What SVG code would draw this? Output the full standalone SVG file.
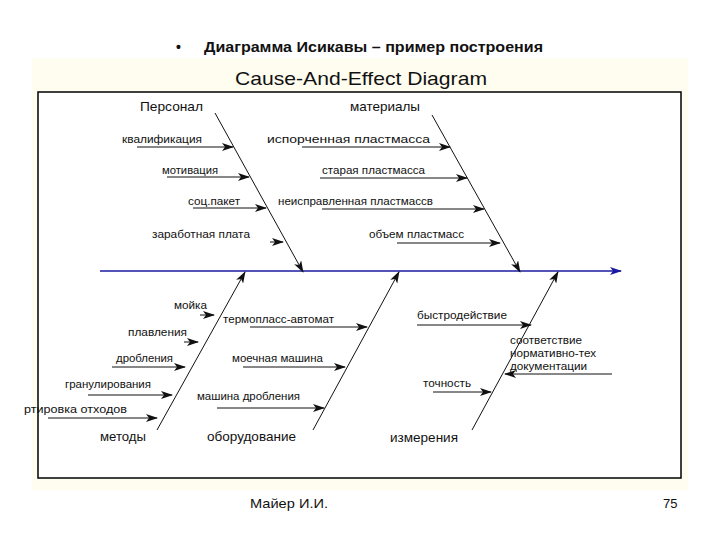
<svg xmlns="http://www.w3.org/2000/svg" width="720" height="540" viewBox="0 0 720 540">
<defs>
<marker id="ah" viewBox="0 0 12 8" refX="11" refY="4" markerWidth="12" markerHeight="8" markerUnits="userSpaceOnUse" orient="auto">
<path d="M0,0 L12,4 L0,8 L3,4 Z" fill="#111"/>
</marker>
<marker id="ahb" viewBox="0 0 12 8" refX="11" refY="4" markerWidth="12" markerHeight="8" markerUnits="userSpaceOnUse" orient="auto">
<path d="M0,0 L12,4 L0,8 L3,4 Z" fill="#1a1aa0"/>
</marker>
<style>
.t{font-family:"Liberation Sans",Arial,sans-serif;fill:#111}
.s{font-size:11px}
.m{font-size:13px}
.ln{stroke:#111;stroke-width:1;fill:none}
.ar{stroke:#111;stroke-width:1;fill:none;marker-end:url(#ah)}
</style>
</defs>
<rect width="720" height="540" fill="#fff"/>
<rect x="32" y="58" width="656" height="432" fill="#fffdf0"/>
<rect x="38" y="92" width="643" height="386" fill="#fff" stroke="#000" stroke-width="1.5"/>
<g id="heading">
<text class="t" x="176" y="52" font-size="14" font-weight="bold">•</text>
<text class="t" x="204" y="52" font-size="14" font-weight="bold" textLength="339" lengthAdjust="spacingAndGlyphs">Диаграмма Исикавы – пример построения</text>
<text class="t" x="235" y="85" font-size="19" textLength="252" lengthAdjust="spacingAndGlyphs">Cause-And-Effect Diagram</text>
</g>
<g id="connectors">
<line x1="100" y1="271" x2="621" y2="271" stroke="#1a1aa0" stroke-width="1.3" marker-end="url(#ahb)"/>
<line class="ar" x1="215" y1="113" x2="303" y2="272"/>
<line class="ar" x1="432" y1="115" x2="520" y2="272"/>
<line class="ar" x1="157" y1="430" x2="245" y2="272"/>
<line class="ar" x1="313" y1="430" x2="399" y2="272"/>
<line class="ar" x1="472" y1="430" x2="558" y2="272"/>
<line class="ar" x1="137" y1="147" x2="233" y2="147"/>
<line class="ar" x1="167" y1="177" x2="249" y2="177"/>
<line class="ar" x1="193" y1="208" x2="266" y2="208"/>
<line class="ar" x1="270" y1="242" x2="283" y2="242"/>
<line class="ar" x1="302" y1="147" x2="450" y2="147"/>
<line class="ar" x1="320" y1="178" x2="467" y2="178"/>
<line class="ar" x1="322" y1="209" x2="484" y2="209"/>
<line class="ar" x1="397" y1="243" x2="500" y2="243"/>
<line class="ar" x1="200" y1="315" x2="214" y2="315"/>
<line class="ar" x1="184" y1="342" x2="198" y2="342"/>
<line class="ar" x1="112" y1="367" x2="185" y2="367"/>
<line class="ar" x1="88" y1="395" x2="172" y2="395"/>
<line class="ar" x1="48" y1="418" x2="157" y2="418"/>
<line class="ar" x1="250" y1="327" x2="367" y2="327"/>
<line class="ar" x1="243" y1="367" x2="345" y2="367"/>
<line class="ar" x1="217" y1="408" x2="324" y2="408"/>
<line class="ar" x1="417" y1="325" x2="531" y2="325"/>
<line class="ar" x1="612" y1="374" x2="505" y2="374"/>
<line class="ar" x1="433" y1="392" x2="491" y2="392"/>
</g>
<g id="personal">
<text class="t m" x="140" y="111" textLength="63" lengthAdjust="spacingAndGlyphs">Персонал</text>
<text class="t s" x="122" y="143" textLength="80" lengthAdjust="spacingAndGlyphs">квалификация</text>
<text class="t s" x="162" y="174" textLength="56" lengthAdjust="spacingAndGlyphs">мотивация</text>
<text class="t s" x="188" y="205" textLength="52" lengthAdjust="spacingAndGlyphs">соц.пакет</text>
<text class="t s" x="152" y="238" textLength="98" lengthAdjust="spacingAndGlyphs">заработная плата</text>
</g>
<g id="materials">
<text class="t m" x="350" y="111" textLength="70" lengthAdjust="spacingAndGlyphs">материалы</text>
<text class="t s" x="267" y="143" textLength="163" lengthAdjust="spacingAndGlyphs">испорченная пластмасса</text>
<text class="t s" x="322" y="174" textLength="103" lengthAdjust="spacingAndGlyphs">старая пластмасса</text>
<text class="t s" x="278" y="205" textLength="155" lengthAdjust="spacingAndGlyphs">неисправленная пластмассв</text>
<text class="t s" x="369" y="238" textLength="95" lengthAdjust="spacingAndGlyphs">объем пластмасс</text>
</g>
<g id="methods">
<text class="t m" x="100" y="441" textLength="46" lengthAdjust="spacingAndGlyphs">методы</text>
<text class="t s" x="174" y="309" textLength="33" lengthAdjust="spacingAndGlyphs">мойка</text>
<text class="t s" x="128" y="336" textLength="59" lengthAdjust="spacingAndGlyphs">плавления</text>
<text class="t s" x="116" y="362" textLength="57" lengthAdjust="spacingAndGlyphs">дробления</text>
<text class="t s" x="65" y="388" textLength="86" lengthAdjust="spacingAndGlyphs">гранулирования</text>
<text class="t s" x="24" y="413" textLength="103" lengthAdjust="spacingAndGlyphs">ртировка отходов</text>
</g>
<g id="equipment">
<text class="t m" x="207" y="441" textLength="89" lengthAdjust="spacingAndGlyphs">оборудование</text>
<text class="t s" x="223" y="323" textLength="111" lengthAdjust="spacingAndGlyphs">термопласс-автомат</text>
<text class="t s" x="232" y="362" textLength="91" lengthAdjust="spacingAndGlyphs">моечная машина</text>
<text class="t s" x="197" y="400" textLength="103" lengthAdjust="spacingAndGlyphs">машина дробления</text>
</g>
<g id="measurement">
<text class="t m" x="390" y="442" textLength="68" lengthAdjust="spacingAndGlyphs">измерения</text>
<text class="t s" x="417" y="319" textLength="90" lengthAdjust="spacingAndGlyphs">быстродействие</text>
<text class="t s" x="510" y="344" textLength="72" lengthAdjust="spacingAndGlyphs">соответствие</text>
<text class="t s" x="510" y="357" textLength="86" lengthAdjust="spacingAndGlyphs">нормативно-тех</text>
<text class="t s" x="510" y="370" textLength="77" lengthAdjust="spacingAndGlyphs">документации</text>
<text class="t s" x="423" y="387" textLength="48" lengthAdjust="spacingAndGlyphs">точность</text>
</g>
<g id="footer">
<text class="t m" x="250" y="508" textLength="78" lengthAdjust="spacingAndGlyphs">Майер И.И.</text>
<text class="t m" x="663" y="508">75</text>
</g>
</svg>
